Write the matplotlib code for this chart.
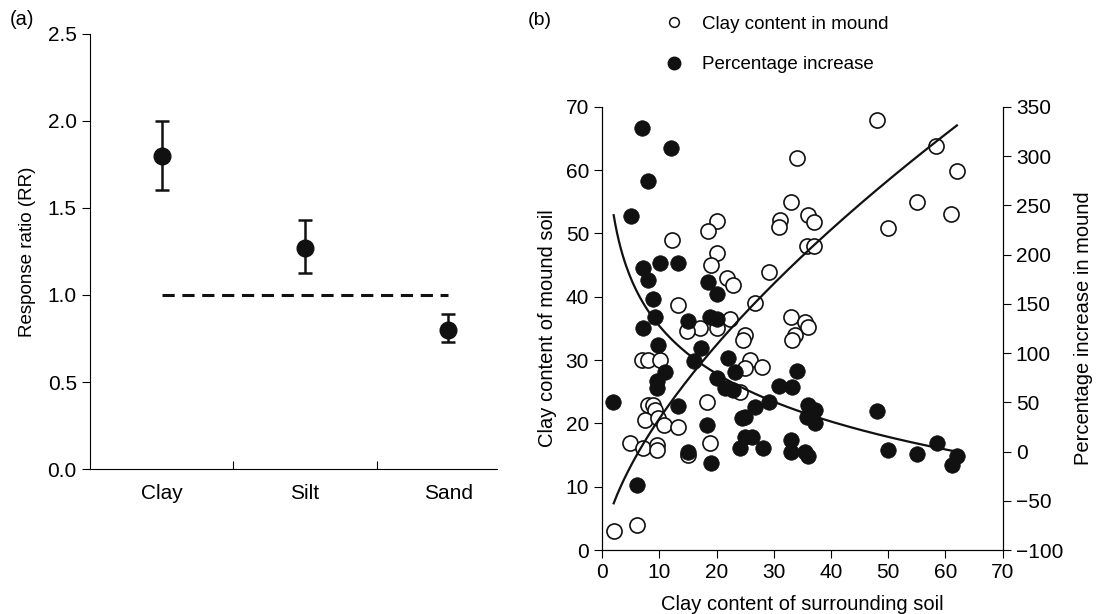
import numpy as np
import matplotlib.pyplot as plt
from matplotlib.lines import Line2D

plt.rcParams['font.family'] = ['Liberation Sans', 'DejaVu Sans']
plt.rcParams['font.size'] = 13.5
plt.rcParams['xtick.labelsize'] = 15
plt.rcParams['ytick.labelsize'] = 15

# panel (a): response ratio by texture class
categories = ['Clay', 'Silt', 'Sand']
rr_mean = [1.80, 1.27, 0.80]
rr_low = [1.60, 1.126, 0.728]
rr_high = [2.00, 1.429, 0.889]

# panel (b): clay content in mound (left axis)
open_x = [2.0, 6.0, 4.9, 7.2, 9.6, 9.6, 8.0, 8.9, 9.3, 7.5, 9.8, 10.8, 13.3,
          7.0, 8.0, 10.1, 18.3, 18.8, 15.0, 12.2, 13.3, 20.1, 18.5, 20.1, 19.0,
          21.8, 22.9, 34.0, 33.0, 36.0, 37.0, 31.1, 30.9, 35.8, 37.0, 29.1,
          26.7, 33.0, 35.4, 36.0, 33.7, 33.2, 25.0, 24.6, 25.8, 27.9, 25.0,
          24.1, 22.3, 17.1, 14.8, 20.1, 48.0, 58.3, 62.0, 55.0, 60.9, 49.9]
open_y = [3.0, 4.0, 16.9, 16.1, 16.6, 15.8, 22.9, 22.9, 22.1, 20.5, 20.8, 19.7,
          19.5, 30.0, 30.0, 30.0, 23.4, 16.9, 15.0, 49.0, 38.7, 52.0, 50.4,
          46.9, 45.0, 43.0, 41.9, 61.9, 55.0, 52.9, 51.8, 52.1, 51.0, 48.0,
          48.0, 43.9, 39.0, 36.8, 36.0, 35.2, 34.0, 33.2, 34.0, 33.2, 30.0,
          28.9, 28.8, 25.0, 36.5, 35.1, 34.6, 35.1, 67.9, 63.8, 59.9, 55.0,
          53.1, 50.9]

# panel (b): percentage increase in mound (right axis)
fill_x = [7.0, 12.0, 8.0, 5.1, 7.2, 8.0, 10.1, 13.3, 8.9, 9.3, 15.0, 7.2,
          18.5, 20.1, 18.8, 20.1, 17.2, 9.8, 11.0, 9.6, 9.6, 1.9, 13.3, 18.3,
          15.0, 19.0, 6.1, 16.1, 20.1, 21.5, 22.0, 23.2, 22.9, 29.1, 26.7,
          25.0, 24.4, 30.9, 33.2, 34.0, 36.0, 37.2, 35.8, 37.2, 25.0, 26.2,
          24.1, 28.1, 33.0, 33.0, 35.4, 36.0, 48.0, 49.9, 55.0, 58.5, 62.1,
          61.1]
fill_y = [329, 308, 275, 239, 186, 174, 191, 191, 155, 137, 133, 126,
          172, 160, 137, 135, 105, 108, 81, 72, 65, 50, 46, 27,
          0, -12, -34, 92, 75, 65, 95, 81, 63, 50, 45,
          35, 34, 67, 66, 82, 47, 42, 35, 29, 15, 15,
          4, 4, 12, 0, 0, -4, 41, 2, -2, 9, -4,
          -14]

# fitted trend lines
clay_fit = (4.74, 0.642)      # y = a * x ** b
pct_fit = (288.4, 69.9)       # y = a - b * ln(x)
fit_range = (2, 62)

fig = plt.figure(figsize=(10.97, 6.14), dpi=100)

# ---------------- panel (a)
ax1 = fig.add_axes([0.082, 0.236, 0.371, 0.709])
xpos = np.arange(len(categories))
yerr = [np.array(rr_mean) - np.array(rr_low), np.array(rr_high) - np.array(rr_mean)]
ax1.errorbar(xpos, rr_mean, yerr=yerr, fmt='o', color='#111111', ms=12,
             capsize=5, elinewidth=1.8, capthick=1.8, zorder=3)
ax1.plot([xpos[0], xpos[-1]], [1.0, 1.0], color='#111111', lw=2.2,
         dashes=(4, 2.5))
ax1.set_xlim(-0.5, 2.34)
ax1.set_ylim(0, 2.5)
ax1.set_yticks(np.arange(0, 2.51, 0.5))
ax1.set_yticklabels([f'{v:.1f}' for v in np.arange(0, 2.51, 0.5)])
ax1.set_xticks([0.5, 1.5])
ax1.set_xticklabels([])
ax1.set_xticks(xpos, minor=True)
ax1.set_xticklabels(categories, minor=True)
ax1.tick_params(axis='x', which='minor', length=0, pad=11)
ax1.tick_params(axis='x', which='major', length=6, direction='in')
ax1.tick_params(axis='y', length=6, direction='out')
ax1.set_ylabel('Response ratio (RR)', labelpad=8)
for s in ['top', 'right']:
    ax1.spines[s].set_visible(False)

fig.text(0.009, 0.968, '(a)', fontsize=14.5, va='center')

# ---------------- panel (b)
ax2 = fig.add_axes([0.549, 0.104, 0.365, 0.722])
ax3 = ax2.twinx()
ax2.scatter(open_x, open_y, s=118, facecolor='white', edgecolor='#111111',
            linewidth=1.2, zorder=2)
ax3.scatter(fill_x, fill_y, s=125, facecolor='#111111', edgecolor='#111111',
            linewidth=0.5, zorder=2)

xf = np.linspace(fit_range[0], fit_range[1], 200)
ax2.plot(xf, clay_fit[0] * xf ** clay_fit[1], color='#111111', lw=1.6, zorder=3)
ax3.plot(xf, pct_fit[0] - pct_fit[1] * np.log(xf), color='#111111', lw=1.6,
         zorder=3)

ax2.set_xlim(0, 70)
ax2.set_ylim(0, 70)
ax3.set_ylim(-100, 350)
ax2.set_xticks(np.arange(0, 71, 10))
ax2.set_yticks(np.arange(0, 71, 10))
ax3.set_yticks(np.arange(-100, 351, 50))
ax3.set_yticklabels([str(v).replace('-', '\u2212') for v in range(-100, 351, 50)])
for a in (ax2, ax3):
    a.tick_params(length=6, direction='out')
    a.spines['top'].set_visible(False)
ax2.set_xlabel('Clay content of surrounding soil', labelpad=9, fontsize=14.5)
ax2.set_ylabel('Clay content of mound soil', labelpad=6, fontsize=14.5)
ax3.set_ylabel('Percentage increase in mound', labelpad=8, fontsize=14.5)

fig.text(0.481, 0.967, '(b)', fontsize=14, va='center')

handles = [
    Line2D([], [], ls='none', marker='o', ms=7, mfc='white', mec='#111111', mew=1.1),
    Line2D([], [], ls='none', marker='o', ms=9, mfc='#111111', mec='#111111'),
]
fig.legend(handles, ['Clay content in mound', 'Percentage increase'],
           loc='upper left', bbox_to_anchor=(0.582, 1.002), frameon=False,
           labelspacing=1.25, handletextpad=0.5, fontsize=13.5)

fig.savefig('out.png', dpi=100)
